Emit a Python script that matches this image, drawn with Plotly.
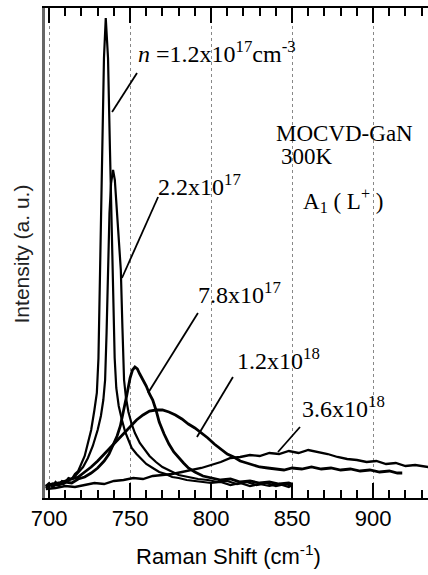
import plotly.graph_objects as go

# ---------------- data ----------------
# Raman shift (cm^-1) and intensity (arbitrary units) for each carrier density
xA = [698, 700, 702, 704, 706, 708, 710, 712, 714, 716, 718, 720, 722, 724, 726, 728, 729.5, 730.5, 731.5, 732.5,
      733.9, 735, 736.4, 737.6, 739.2, 740.5, 741.5, 743, 745, 747, 749, 751, 754, 757, 760, 764, 768, 772, 776, 780,
      785, 790, 795, 800, 806, 812, 818, 824, 830, 836, 842, 848, 850]
yA = [12, 15, 11, 16, 13, 17, 16, 20, 19, 24, 27, 34, 42, 55, 68, 88, 105, 140, 228, 348,
      440, 480, 440, 348, 228, 140, 110, 92, 78, 66, 58, 50, 44, 39, 34, 30, 26, 24, 21, 20,
      18, 17, 16, 15, 16, 13, 15, 12, 14, 12, 14, 11, 13]

xB = [698, 700, 703, 706, 709, 712, 715, 718, 721, 724, 727, 730, 732, 733.5, 734.6, 735.5, 736.4, 737.3, 738.3, 739.5,
      740.6, 741.8, 743, 744.3, 745.3, 746.3, 747.5, 749, 751, 753, 756, 759, 762, 766, 770, 775, 780, 786, 792, 798,
      804, 810, 816, 822, 828, 834, 840, 846, 850]
yB = [10, 13, 12, 15, 14, 18, 20, 25, 31, 40, 52, 68, 82, 98, 118, 165, 228, 285, 315, 328,
      318, 290, 260, 228, 170, 118, 100, 86, 74, 65, 55, 48, 42, 36, 31, 27, 23, 21, 19, 18,
      16, 17, 14, 16, 13, 15, 12, 14, 12]

xC = [698, 702, 706, 710, 714, 718, 722, 726, 730, 734, 737, 740, 742, 744, 746, 748, 750, 751.5, 753, 754.5,
      756, 758, 760, 762, 764, 766, 768, 771, 774, 777, 780, 783, 786, 790, 795, 800, 806, 812, 818, 824,
      830, 836, 842, 848, 850]
yC = [11, 14, 13, 16, 15, 19, 21, 25, 30, 37, 44, 54, 62, 72, 86, 103, 120, 128, 131, 129,
      124, 118, 112, 104, 98, 88, 76, 64, 54, 46, 40, 35, 30, 26, 22, 20, 18, 19, 16, 17,
      15, 16, 14, 15, 14]

xD = [698, 702, 706, 710, 714, 718, 722, 726, 730, 734, 738, 742, 746, 750, 754, 758, 762, 766, 770, 774,
      778, 782, 786, 790, 794, 798, 802, 806, 810, 814, 818, 822, 826, 830, 835, 840, 845, 850, 856, 862,
      868, 874, 880, 886, 892, 898, 904, 910, 915, 918]
yD = [12, 14, 15, 17, 19, 21, 26, 31, 37, 44, 51, 58, 65, 72, 78, 83, 87, 88, 88, 86,
      83, 79, 74, 70, 65, 60, 54, 49, 44, 41, 37, 35, 33, 31, 30, 29, 28, 30, 29, 31,
      29, 30, 28, 29, 27, 28, 26, 27, 25, 25]

xE = [698, 704, 710, 716, 722, 728, 734, 740, 746, 752, 758, 764, 770, 776, 782, 788, 794, 800, 806, 812,
      818, 824, 830, 836, 842, 848, 854, 860, 866, 872, 878, 884, 890, 896, 902, 908, 914, 920, 926, 934]
yE = [9, 10, 12, 11, 13, 15, 14, 17, 18, 20, 19, 22, 23, 24, 26, 28, 30, 33, 36, 40,
      41, 43, 42, 45, 44, 47, 45, 48, 46, 44, 41, 39, 38, 36, 37, 34, 35, 32, 33, 31]

xtick_vals = [700, 750, 800, 850, 900]
xtick_text = ["700", "750", "800", "850", "900"]

label_texts = ["<i>n</i> =1.2x10<sup>17</sup>cm<sup>-3</sup>", "2.2x10<sup>17</sup>", "7.8x10<sup>17</sup>",
               "1.2x10<sup>18</sup>", "3.6x10<sup>18</sup>"]
label_pos = [(753.8, 446.5), (766.3, 313), (791.0, 205.5), (814.5, 139.5), (854.6, 91)]
leader_lines = [((754.3, 425), (738.9, 386)), ((767.3, 301), (745.0, 220)), ((791.9, 185), (761.1, 105)),
                ((813.5, 121), (791.3, 61)), ((854.9, 71), (841.3, 46))]

info_texts = ["MOCVD-GaN", "300K", "A<sub>1</sub> ( L<sup>+</sup> )"]
info_pos = [(838.8, 364.5), (842.0, 341.5), (855.6, 297.5)]

XR = [697.5, 933.9]
YR = [0, 490]

# ---------------- figure ----------------
fig = go.Figure()
series = [(xE, yE, 2.3), (xD, yD, 2.8), (xC, yC, 2.8), (xB, yB, 2.2), (xA, yA, 2.2)]
for xs, ys, w in series:
    fig.add_trace(go.Scatter(x=xs, y=ys, mode="lines", line=dict(color="black", width=w),
                             showlegend=False, hoverinfo="skip"))

serif = "Liberation Serif"
sans = "Liberation Sans"
annotations = []
for t, (x, y) in zip(label_texts, label_pos):
    annotations.append(dict(x=x, y=y, xref="x", yref="y", text=t, showarrow=False,
                            xanchor="left", yanchor="middle", font=dict(family=serif, size=24, color="black")))
for t, (x, y) in zip(info_texts, info_pos):
    annotations.append(dict(x=x, y=y, xref="x", yref="y", text=t, showarrow=False,
                            xanchor="left", yanchor="middle", font=dict(family=serif, size=23, color="black")))
annotations.append(dict(x=0.4804, y=-0.1161, xref="paper", yref="paper", text="Raman Shift (cm<sup>-1</sup>)",
                        showarrow=False, xanchor="center", yanchor="middle",
                        font=dict(family=sans, size=22, color="black")))
annotations.append(dict(x=-0.0601, y=0.499, xref="paper", yref="paper", text="Intensity (a. u.)", textangle=-90,
                        showarrow=False, xanchor="center", yanchor="middle",
                        font=dict(family=sans, size=21, color="#222")))

shapes = []
for (p0, p1) in leader_lines:
    shapes.append(dict(type="line", xref="x", yref="y", x0=p0[0], y0=p0[1], x1=p1[0], y1=p1[1],
                       line=dict(color="black", width=1.8)))

fig.update_layout(
    width=428, height=575,
    margin=dict(l=45, r=0, t=8, b=77, pad=0),
    paper_bgcolor="white", plot_bgcolor="white",
    annotations=annotations, shapes=shapes,
    xaxis=dict(range=XR, tickvals=xtick_vals, ticktext=xtick_text, ticks="inside", ticklen=15,
               tickwidth=1.5, tickcolor="black", showline=True, linecolor="black", linewidth=2,
               mirror="allticks",
               showgrid=True, gridcolor="#888", griddash="dot", gridwidth=1, zeroline=False,
               tickfont=dict(family=sans, size=22, color="black"),
               minor=dict(tick0=700, dtick=10, ticks="inside", ticklen=8, tickwidth=1.5, tickcolor="black",
                          showgrid=False)),
    yaxis=dict(range=YR, showline=True, linecolor="#666", linewidth=3, ticks="", showticklabels=False,
               showgrid=False, zeroline=False),
)

fig.write_html("out.html")
